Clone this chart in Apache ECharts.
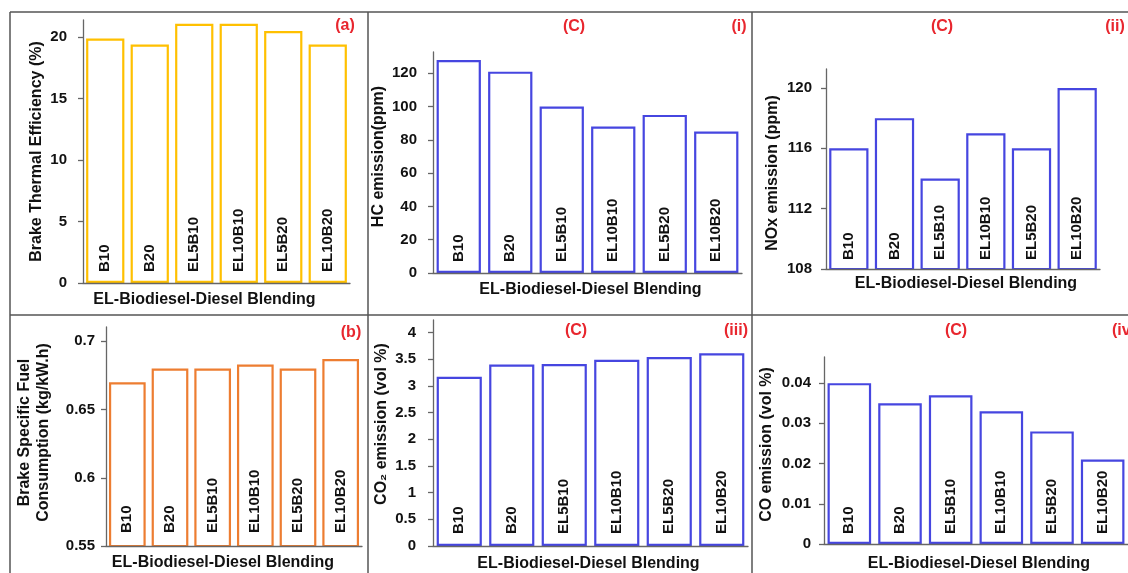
<!DOCTYPE html>
<html>
<head>
<meta charset="utf-8">
<script src="https://cdn.jsdelivr.net/npm/echarts@6/dist/echarts.min.js"></script>
<style>
  html, body { margin: 0; padding: 0; background: #fff; }
  #chart { width: 1128px; height: 573px; }
</style>
</head>
<body>
<div id="chart"></div>
<script>
// blends on every panel
var blends = ['B10', 'B20', 'EL5B10', 'EL10B10', 'EL5B20', 'EL10B20']

// (a) brake thermal efficiency, %
var bte = [19.9, 19.4, 21.1, 21.1, 20.5, 19.4]
var bteTicks = [0, 5, 10, 15, 20]
// (b) brake specific fuel consumption, kg/kW.h
var bsfc = [0.67, 0.68, 0.68, 0.683, 0.68, 0.687]
var bsfcTicks = [0.55, 0.6, 0.65, 0.7]
// (i) HC emission, ppm
var hc = [128, 121, 100, 88, 95, 85]
var hcTicks = [0, 20, 40, 60, 80, 100, 120]
// (ii) NOx emission, ppm
var nox = [116, 118, 114, 117, 116, 120]
var noxTicks = [108, 112, 116, 120]
// (iii) CO2 emission, vol %
var co2 = [3.17, 3.4, 3.41, 3.49, 3.54, 3.61]
var co2Ticks = [0, 0.5, 1, 1.5, 2, 2.5, 3, 3.5, 4]
// (iv) CO emission, vol %
var co = [0.04, 0.035, 0.037, 0.033, 0.028, 0.021]
var coTicks = [0, 0.01, 0.02, 0.03, 0.04]

var FONT = '"Liberation Sans", Arial, sans-serif'
var BLUE = '#4646e0'

var panels = [
  { data: bte, ticks: bteTicks, color: '#ffc000', min: 0, max: 21.4, interval: 5,
    grid: { left: 83, top: 20, width: 267, height: 263 },
    yName: 'Brake Thermal Efficiency (%)', yGap: 36, yPad: [0, 0, 0, 0], yMargin: 16,
    xGap: 9, xPad: [0, 24, 0, 0], inMargin: 11 },
  { data: bsfc, ticks: bsfcTicks, color: '#ed7d31', min: 0.55, max: 0.7105, interval: 0.05,
    grid: { left: 106, top: 327, width: 256, height: 219 },
    yName: 'Brake Specific Fuel\nConsumption (kg/kW.h)', yGap: 53, yPad: [0, 0, 0, 8], yMargin: 11,
    xGap: 9, xPad: [0, 22, 0, 0], inMargin: 13 },
  { data: hc, ticks: hcTicks, color: BLUE, min: 0, max: 132.8, interval: 20,
    grid: { left: 433, top: 52, width: 309, height: 221 },
    yName: 'HC emission(ppm)', yGap: 44, yPad: [0, 0, 0, 12], yMargin: 16,
    xGap: 9, xPad: [0, 0, 0, 6], inMargin: 11 },
  { data: nox, ticks: noxTicks, color: BLUE, min: 108, max: 121.26, interval: 4,
    grid: { left: 826, top: 69, width: 274, height: 200 },
    yName: 'NOx emission (ppm)', yGap: 44, yPad: [0, 8, 0, 0], yMargin: 14,
    xGap: 7, xPad: [0, 0, 0, 6], inMargin: 9 },
  { data: co2, ticks: co2Ticks, color: BLUE, min: 0, max: 4.235, interval: 0.5,
    grid: { left: 433, top: 320, width: 315, height: 228 },
    yName: 'CO₂ emission (vol %)', yGap: 42, yPad: [0, 0, 0, 18], yMargin: 17,
    xGap: 10, xPad: [0, 4, 0, 0], inMargin: 12 },
  { data: co, ticks: coTicks, color: BLUE, min: 0, max: 0.0465, interval: 0.01,
    grid: { left: 824, top: 357, width: 304, height: 187 },
    yName: 'CO emission (vol %)', yGap: 48, yPad: [0, 0, 0, 12], yMargin: 13,
    xGap: 12, xPad: [0, 0, 0, 6], inMargin: 10 }
]

var grids = [], xAxes = [], yAxes = [], series = []
panels.forEach(function (p, i) {
  grids.push(p.grid)
  xAxes.push({
    type: 'category',
    gridIndex: i,
    data: blends,
    name: 'EL-Biodiesel-Diesel Blending',
    nameLocation: 'middle',
    nameGap: p.xGap,
    nameTextStyle: { fontFamily: FONT, fontWeight: 'bold', fontSize: 16, color: '#111', padding: p.xPad },
    axisLine: { lineStyle: { color: '#666', width: 1.3 } },
    axisTick: { show: false },
    axisLabel: {
      inside: true,
      rotate: 90,
      interval: 0,
      margin: p.inMargin,
      fontFamily: FONT,
      fontWeight: 'bold',
      fontSize: 15,
      color: '#111'
    },
    z: 5
  })
  yAxes.push({
    type: 'value',
    gridIndex: i,
    min: p.min,
    max: p.max,
    interval: p.interval,
    name: p.yName,
    nameLocation: 'middle',
    nameRotate: 90,
    nameGap: p.yGap,
    nameTextStyle: { fontFamily: FONT, fontWeight: 'bold', fontSize: 16, color: '#111', lineHeight: 19, padding: p.yPad },
    splitLine: { show: false },
    axisLine: { show: true, lineStyle: { color: '#666', width: 1.3 } },
    axisTick: { show: true, length: 5, customValues: p.ticks, lineStyle: { color: '#666', width: 1.3 } },
    axisLabel: {
      customValues: p.ticks,
      margin: p.yMargin,
      fontFamily: FONT,
      fontWeight: 'bold',
      fontSize: 15,
      color: '#111'
    }
  })
  series.push({
    type: 'bar',
    xAxisIndex: i,
    yAxisIndex: i,
    data: p.data,
    barCategoryGap: '14%',
    itemStyle: { color: '#fff', borderColor: p.color, borderWidth: 2.2 },
    silent: true
  })
})

// panel frame lines
var frame = '#555'
function line(x1, y1, x2, y2) {
  return { type: 'line', shape: { x1: x1, y1: y1, x2: x2, y2: y2 }, style: { stroke: frame, lineWidth: 1.5 }, silent: true }
}
function tag(text, x, y) {
  return {
    type: 'text', x: x, y: y, silent: true,
    style: { text: text, fill: '#e8262e', font: 'bold 16px ' + FONT, align: 'center', verticalAlign: 'middle' }
  }
}

var chart = echarts.init(document.getElementById('chart'))
chart.setOption({
  animation: false,
  backgroundColor: '#fff',
  grid: grids,
  xAxis: xAxes,
  yAxis: yAxes,
  series: series,
  graphic: [
    line(10, 12, 1128, 12),
    line(10, 12, 10, 573),
    line(368, 12, 368, 573),
    line(752, 12, 752, 573),
    line(10, 315, 1128, 315),
    tag('(a)', 345, 26),
    tag('(b)', 351, 333),
    tag('(C)', 574, 27),
    tag('(i)', 739, 27),
    tag('(C)', 942, 27),
    tag('(ii)', 1115, 27),
    tag('(C)', 576, 331),
    tag('(iii)', 736, 331),
    tag('(C)', 956, 331),
    tag('(iv)', 1124, 331)
  ]
})
</script>
</body>
</html>
